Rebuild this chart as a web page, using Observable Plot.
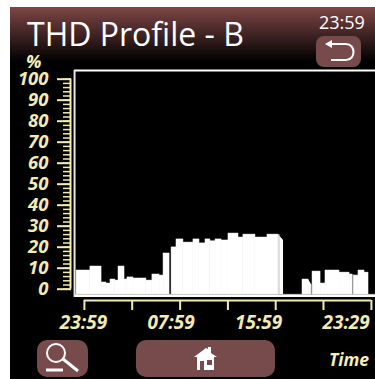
<!DOCTYPE html>
<html><head><meta charset="utf-8">
<script src="https://cdn.jsdelivr.net/npm/d3@7"></script>
<script src="https://cdn.jsdelivr.net/npm/@observablehq/plot@0.6"></script>
<style>
html,body{margin:0;padding:0;background:#fff;width:375px;height:379px;overflow:hidden;font-family:"Open Sans",sans-serif}
#panel{position:absolute;left:10px;top:7px;width:365px;height:372px;background:#000}
#head{position:absolute;left:10px;top:7px;width:365px;height:55px;background:linear-gradient(#7f4646,#000)}
#title{position:absolute;left:27px;top:14px;font-size:32px;line-height:40px;color:#fff;white-space:nowrap}
#clock{position:absolute;left:319px;top:11px;font-size:18px;line-height:22px;color:#fff}
.btn{position:absolute;background:#774b4b;border-radius:8px}
.btn svg{position:absolute;left:0;top:0}
#time{position:absolute;left:329px;top:347px;font-size:17.5px;line-height:24px;font-weight:700;font-style:italic;color:#f6efbd}
#chart{position:absolute;left:0;top:0}
#pct{position:absolute;left:26px;top:54px;font-size:18px;line-height:14px;font-weight:700;font-style:italic;color:#f6efbd}
</style></head>
<body>
<div id="panel"></div><div id="head"></div>
<div id="title">THD Profile - B</div><div id="clock">23:59</div>
<div class="btn" style="left:316px;top:36px;width:45px;height:31px"><svg width="45" height="31"><path d="M11 8H30C40 8 40 24 30 24H15" fill="none" stroke="#fff" stroke-width="2"/><path d="M9 8L16 4V12Z" fill="#fff"/></svg></div>
<div class="btn" style="left:37px;top:340px;width:51px;height:37px;border-radius:10px"><svg width="51" height="37"><circle cx="19" cy="13" r="9" fill="none" stroke="#fff" stroke-width="2"/><path d="M26 19L41 31" stroke="#fff" stroke-width="3"/><path d="M9 30H26" stroke="#fff" stroke-width="3"/></svg></div>
<div class="btn" style="left:136px;top:340px;width:139px;height:37px;border-radius:10px"><svg width="139" height="37"><path d="M58 17L70 8L72 9V7H75V13L81 17H78V30H61V17Z" fill="#fff"/><rect x="64" y="21" width="4" height="9" fill="#774b4b"/><rect x="71" y="20" width="5" height="5" fill="#774b4b"/></svg></div>
<div id="time">Time</div>
<div id="pct">%</div>
<div id="chart"></div>
<script>
const cream = "#f3ebb4";
// bars: start/end minute on the time scale, THD % at the top
const barStart = [-38,38,99,126,148,175,192,225,241,274,345,378,417,439,483,510,548,603,636,669,696,724,757,795,850,877,943,1009,1201,1256,1300,1327,1404,1459,1481,1508,1541];
const barEnd   = [38,99,126,148,175,192,225,241,274,345,378,417,439,472,510,548,603,636,669,696,724,757,795,850,877,943,1009,1069,1234,1300,1327,1404,1459,1475,1508,1541,1563];
const thd      = [8.9,10.8,3.2,2.7,4.6,4.1,10.8,4.6,5.6,5.1,4.1,7,6.5,17,19.9,23.7,22.2,23.7,21.8,23.7,22.8,23.7,23.2,26.5,24.6,26,24.6,26,4.6,8.4,2.7,8.9,7.9,7,6.5,8.9,7.9];
// sloped tails after two bars
const tailA = [[1069,26],[1097,23.2]];
const tailB = [[1234,4.6],[1250,2.2]];
const seams = [1072,1252,1477];
const seamTops = [26,2.2,7];
const yMajor = [0,10,20,30,40,50,60,70,80,90,100];
const yMinor = d3.range(0,101,2);
const xTicks = [5,267,530,792,1054,1316,1579];
const xLabelAt = [0,480,960,1440];
const xLabels = ["23:59","07:59","15:59","23:29"];
const xDomain = [-65.8,1601.3], yDomain = [-5.38,104.14];
const floor = -3.95, floorTop = -2.5, frameX = -49;

const bars = barStart.map((s,i)=>({s,e:barEnd[i],v:thd[i]}));
const tail = t => t.map(([x,v])=>({x,v}));
const labelFont = {fontFamily:"'Open Sans',sans-serif",fontSize:18.5,fontWeight:700,fontStyle:"italic"};

const svg = Plot.plot({
  width:375,height:379,marginLeft:71,marginRight:0,marginTop:70,marginBottom:79,
  style:{background:"transparent",overflow:"visible"},
  x:{domain:xDomain,axis:null},y:{domain:yDomain,axis:null},
  marks:[
    Plot.rectY([{}],{x1:()=>frameX,x2:()=>xDomain[1],y1:()=>floor,y2:()=>floorTop,fill:"white"}),
    Plot.ruleY([floorTop],{x1:frameX,x2:xDomain[1],stroke:"#bbb",strokeWidth:1}),
    Plot.rectY(bars,{x1:"s",x2:"e",y1:()=>floorTop,y2:"v",fill:"white",stroke:"white",strokeWidth:0.5}),
    Plot.areaY(tail(tailA),{x:"x",y1:()=>floorTop,y2:"v",fill:"white"}),
    Plot.areaY(tail(tailB),{x:"x",y1:()=>floorTop,y2:"v",fill:"white"}),
    Plot.ruleX(seams,{y1:floorTop,y2:(d,i)=>seamTops[i],stroke:"#bbb",strokeWidth:1}),
    Plot.ruleY([yDomain[1]],{x1:frameX,x2:xDomain[1],stroke:"white",strokeWidth:2}),
    Plot.ruleX([frameX],{y1:floor,y2:yDomain[1],stroke:"#e8e8e8",strokeWidth:2}),
    // y axis
    Plot.ruleX([xDomain[0]],{y1:0,y2:100,stroke:cream,strokeWidth:2,dx:-1}),
    Plot.axisY({ticks:yMinor,tickSize:8,fill:"none",stroke:cream,strokeWidth:1.5,label:null}),
    Plot.axisY({ticks:yMajor,tickSize:14,tickPadding:9,stroke:cream,strokeWidth:2,fill:cream,label:null,...labelFont}),
    // x axis
    Plot.ruleY([yDomain[0]],{x1:xTicks[0],x2:xTicks[6],stroke:cream,strokeWidth:2}),
    Plot.axisX({ticks:xTicks,tickSize:10,fill:"none",stroke:cream,strokeWidth:2,label:null}),
    Plot.axisX({ticks:xLabelAt,tickSize:0,tickPadding:15,tickFormat:(d,i)=>xLabels[i],fill:cream,label:null,...labelFont,fontSize:19})
  ]
});
document.getElementById("chart").append(svg);
</script>
</body></html>
